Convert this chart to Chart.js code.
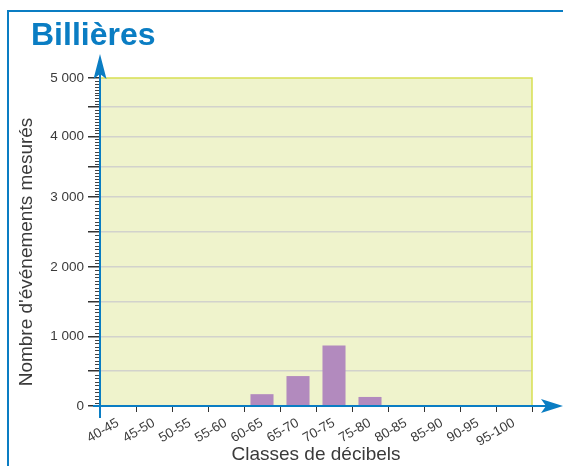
<!DOCTYPE html>
<html>
<head>
<meta charset="utf-8">
<title>Billières</title>
<script src="https://cdn.jsdelivr.net/npm/chart.js@4/dist/chart.umd.min.js"></script>
<style>
  html, body { margin: 0; padding: 0; background: #fff; }
  canvas { display: block; }
</style>
</head>
<body>
<canvas id="billieresChart" width="563" height="466"></canvas>
<script>
const classes = ["40-45", "45-50", "50-55", "55-60", "60-65", "65-70", "70-75", "75-80", "80-85", "85-90", "90-95", "95-100"];
const evenements = [0, 0, 0, 0, 170, 430, 870, 130, 0, 0, 0, 0];
const yTickValues = [0, 1000, 2000, 3000, 4000, 5000];

// the printed y axis is not evenly spaced: where each thousand sits (0 = bottom, 1 = top)
const yTickFrac = [0, 0.2122, 0.4244, 0.6366, 0.8223, 1];

const blue = "#0a7dc3";
const textGrey = "#3a3a3a";
const font = '"Liberation Sans", Arial, sans-serif';

function valueToFrac(v) {
  for (let i = 1; i < yTickValues.length; i++) {
    if (v <= yTickValues[i] || i === yTickValues.length - 1) {
      const t = (v - yTickValues[i - 1]) / (yTickValues[i] - yTickValues[i - 1]);
      return yTickFrac[i - 1] + t * (yTickFrac[i] - yTickFrac[i - 1]);
    }
  }
  return 0;
}

function fracToValue(f) {
  for (let i = 1; i < yTickFrac.length; i++) {
    if (f <= yTickFrac[i] || i === yTickFrac.length - 1) {
      const t = (f - yTickFrac[i - 1]) / (yTickFrac[i] - yTickFrac[i - 1]);
      return yTickValues[i - 1] + t * (yTickValues[i] - yTickValues[i - 1]);
    }
  }
  return 0;
}

class PiecewiseScale extends Chart.LinearScale {
  static id = "piecewise";
  static defaults = Chart.LinearScale.defaults;

  getPixelForValue(value) {
    if (value === null || value === undefined) return NaN;
    return this.getPixelForDecimal(valueToFrac(value));
  }

  getValueForPixel(pixel) {
    return fracToValue(this.getDecimalForPixel(pixel));
  }
}
Chart.register(PiecewiseScale);

function formatMille(v) {
  if (v === 0) return "0";
  return v / 1000 + " 000";
}

const billieresDecor = {
  id: "billieresDecor",
  beforeDraw(chart) {
    const { ctx, chartArea: a } = chart;
    ctx.save();
    ctx.fillStyle = "#eff3cc";
    ctx.fillRect(a.left, a.top, a.right - a.left, a.bottom - a.top);
    ctx.restore();
  },
  afterDraw(chart) {
    const { ctx, chartArea: a } = chart;
    const y = chart.scales.y;
    ctx.save();

    // blue frame
    ctx.strokeStyle = blue;
    ctx.lineWidth = 2;
    ctx.beginPath();
    ctx.moveTo(8, 466);
    ctx.lineTo(8, 11);
    ctx.lineTo(563, 11);
    ctx.stroke();

    // title
    ctx.fillStyle = blue;
    ctx.font = "bold 32px " + font;
    ctx.textBaseline = "alphabetic";
    ctx.textAlign = "left";
    ctx.fillText("Billières", 31, 45);

    // y axis title, a little below the middle of the plot as in the print
    ctx.save();
    ctx.translate(27, 252);
    ctx.rotate(-Math.PI / 2);
    ctx.fillStyle = textGrey;
    ctx.font = "19px " + font;
    ctx.textAlign = "center";
    ctx.textBaseline = "middle";
    ctx.fillText("Nombre d'événements mesurés", 0, 0);
    ctx.restore();

    // yellow edge of the plot background
    ctx.strokeStyle = "#d7df52";
    ctx.lineWidth = 1.5;
    ctx.beginPath();
    ctx.moveTo(a.left, a.top);
    ctx.lineTo(a.right, a.top);
    ctx.lineTo(a.right, a.bottom);
    ctx.stroke();

    // minor ticks on the y axis
    ctx.strokeStyle = "#444";
    ctx.lineWidth = 1;
    ctx.beginPath();
    for (let v = 50; v < 5000; v += 50) {
      if (v % 500 === 0) continue;
      const py = Math.round(y.getPixelForValue(v)) + 0.5;
      ctx.moveTo(a.left - 5, py);
      ctx.lineTo(a.left, py);
    }
    ctx.stroke();

    // blue axes and arrows
    ctx.strokeStyle = blue;
    ctx.lineWidth = 2;
    ctx.beginPath();
    ctx.moveTo(a.left, a.bottom + 12);
    ctx.lineTo(a.left, 70);
    ctx.moveTo(a.left - 7, a.bottom);
    ctx.lineTo(548, a.bottom);
    ctx.stroke();

    ctx.fillStyle = blue;
    ctx.beginPath();
    ctx.moveTo(a.left, 54);
    ctx.lineTo(a.left + 6.5, 79);
    ctx.lineTo(a.left, 74);
    ctx.lineTo(a.left - 6.5, 79);
    ctx.closePath();
    ctx.fill();

    ctx.beginPath();
    ctx.moveTo(563, a.bottom);
    ctx.lineTo(541, a.bottom - 7);
    ctx.lineTo(546, a.bottom);
    ctx.lineTo(541, a.bottom + 7);
    ctx.closePath();
    ctx.fill();

    ctx.restore();
  },
};

new Chart(document.getElementById("billieresChart"), {
  type: "bar",
  data: {
    labels: classes,
    datasets: [
      {
        label: "Nombre d'événements mesurés",
        data: evenements,
        backgroundColor: "#b28abe",
        borderWidth: 0,
        barPercentage: 0.64,
        categoryPercentage: 1,
      },
    ],
  },
  options: {
    responsive: false,
    animation: false,
    devicePixelRatio: 1,
    layout: {
      padding: { left: 0, right: 31, top: 78, bottom: 0 },
    },
    plugins: {
      legend: { display: false },
      tooltip: { enabled: false },
    },
    scales: {
      x: {
        offset: true,
        afterFit: (scale) => {
          scale.height = 60;
        },
        border: { display: false },
        grid: {
          offset: true,
          drawOnChartArea: false,
          tickLength: 6,
          tickColor: "#333",
        },
        ticks: {
          minRotation: 30,
          maxRotation: 30,
          autoSkip: false,
          padding: 3,
          color: textGrey,
          font: { family: font, size: 13.5 },
        },
        title: {
          display: true,
          text: "Classes de décibels",
          color: textGrey,
          padding: { top: 0, bottom: 0 },
          font: { family: font, size: 19 },
        },
      },
      y: {
        type: "piecewise",
        min: 0,
        max: 5000,
        afterFit: (scale) => {
          scale.width = 100;
        },
        border: { display: false },
        grid: {
          color: (c) => (c.tick && (c.tick.value === 0 || c.tick.value === 5000) ? "rgba(0,0,0,0)" : "#d2d2cc"),
          tickColor: "#333",
          tickLength: 12,
          lineWidth: 1.5,
        },
        ticks: {
          stepSize: 500,
          padding: 4,
          color: textGrey,
          font: { family: font, size: 13.5 },
          callback: (v) => (v % 1000 === 0 ? formatMille(v) : ""),
        },
      },
    },
  },
  plugins: [billieresDecor],
});
</script>
</body>
</html>
